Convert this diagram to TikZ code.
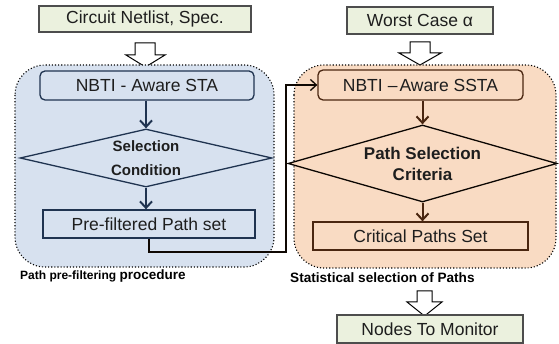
\documentclass[tikz,border=0pt]{standalone}
\usepackage{fontspec}
\setmainfont{Liberation Sans}
\usetikzlibrary{shapes.geometric,arrows.meta}
\definecolor{olivebg}{HTML}{EBF1DE}
\definecolor{bluebg}{HTML}{D7E1EF}
\definecolor{peachbg}{HTML}{F9DBC3}
\definecolor{navy}{HTML}{1F3350}
\definecolor{brownln}{HTML}{4A2610}
\definecolor{txt}{HTML}{1E1E1E}
\definecolor{ioline}{HTML}{4D4D4D}
\begin{document}
\begin{tikzpicture}[x=1pt,y=-1pt,
  iobox/.style={draw=ioline, fill=olivebg, line width=1.1pt, text=txt,
    font=\fontsize{17.5}{20}\selectfont, inner sep=0pt},
  region/.style={draw=black, dotted, line width=1.1pt, rounded corners=30pt},
  bluebox/.style={draw=navy, fill=bluebg, line width=1.3pt, text=txt,
    font=\fontsize{17.5}{20}\selectfont, inner sep=0pt},
  brownbox/.style={draw=brownln, fill=peachbg, line width=1.3pt, text=txt,
    font=\fontsize{17.5}{20}\selectfont, inner sep=0pt},
  hollow/.style={draw=black, fill=white, line width=1pt, line join=miter},
  flowarrow/.style={line width=2pt, -{Straight Barb[length=6.5pt,width=12pt]}},
  grouplabel/.style={anchor=base west, inner sep=0pt, text=black}
]
\useasboundingbox (0,0) rectangle (559,344);

% ---------- left column ----------
\node[iobox, minimum width=212pt, minimum height=26pt] (netlist) at (145,19) {Circuit Netlist, Spec.};
\draw[hollow] (135,43) -- (155,43) -- (155,55) -- (165,55) -- (145.5,67) -- (126,55) -- (135,55) -- cycle;

\path[region, fill=bluebg] (15,65) rectangle (274,267);

\node[bluebox, rounded corners=5pt, minimum width=214pt, minimum height=29pt] (sta) at (147,85.5) {NBTI - Aware STA};
\node[draw=navy, fill=bluebg, line width=1.3pt, diamond, aspect=4.3, inner sep=0pt,
  minimum width=252pt, minimum height=58pt, align=center, text=txt,
  font=\fontsize{15}{24}\bfseries\selectfont] (cond) at (146,158) {Selection\\Condition};
\node[bluebox, minimum width=212pt, minimum height=28pt] (pre) at (149,224) {Pre-filtered Path set};

\draw[navy, flowarrow] (sta.south -| cond.north) -- (cond.north);
\draw[navy, flowarrow] (cond.south) -- (cond.south |- pre.north);

\node[grouplabel] (lbl1) at (20,280) {\fontsize{12}{14}\bfseries\selectfont Path pre-filtering \fontsize{13.5}{14}\selectfont procedure};

% ---------- right column ----------
\node[iobox, minimum width=146pt, minimum height=27pt] (worst) at (420,20.5) {Worst Case α};
\draw[hollow] (410,42) -- (430,42) -- (430,53) -- (441,53) -- (420,65) -- (399,53) -- (410,53) -- cycle;

\path[region, fill=peachbg] (294,65) rectangle (556,268);

\node[brownbox, rounded corners=5pt, minimum width=205pt, minimum height=30pt] (ssta) at (420.5,85) {NBTI\hspace{5pt}–\hspace{2pt}Aware SSTA};
\node[draw=black!85!brownln, fill=peachbg, line width=1.3pt, diamond, aspect=3.5, inner sep=0pt,
  minimum width=269pt, minimum height=77pt, align=center, text=txt,
  font=\fontsize{17}{21}\bfseries\selectfont] (crit) at (422.5,163.5) {Path Selection\\Criteria};
\node[brownbox, minimum width=215pt, minimum height=28pt] (cps) at (420.5,236) {Critical Paths Set};

\draw[brownln, flowarrow] (ssta.south -| crit.north) -- (crit.north);
\draw[brownln, flowarrow] (crit.south) -- (crit.south |- cps.north);

\node[grouplabel] (lbl2) at (290,283) {\fontsize{13.6}{15}\bfseries\selectfont Statistical selection of Paths};

\draw[hollow] (417,291) -- (432,291) -- (432,302) -- (442,302) -- (424.5,316) -- (407,302) -- (417,302) -- cycle;
\node[iobox, minimum width=186pt, minimum height=28pt] (monitor) at (430,329) {Nodes To Monitor};

% ---------- connector between the two stages ----------
\coordinate (jog) at (286,252);
\draw[line width=1.3pt, black!80!brownln, -{Straight Barb[length=6pt,width=11pt]}]
  (pre.south) |- (jog) |- (ssta.west);
\end{tikzpicture}
\end{document}
